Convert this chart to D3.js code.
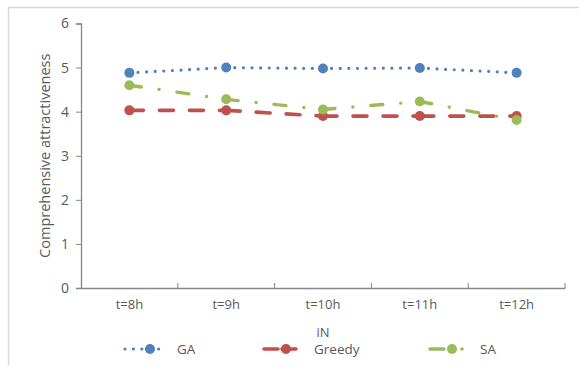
<!DOCTYPE html>
<html>
<head>
<meta charset="utf-8">
<script src="https://cdn.jsdelivr.net/npm/d3@7"></script>
<style>
  html, body { margin: 0; padding: 0; background: #fff; }
  svg { display: block; }
  text { font-family: "Open Sans", "Liberation Sans", sans-serif; fill: #595959; }
</style>
</head>
<body>
<svg id="chart" width="579" height="365"></svg>
<script>
const categories = ["t=8h", "t=9h", "t=10h", "t=11h", "t=12h"];
const gaValues = [4.88, 5.00, 4.98, 4.99, 4.88];
const greedyValues = [4.03, 4.03, 3.90, 3.90, 3.90];
const saValues = [4.60, 4.28, 4.05, 4.23, 3.81];
const yTicks = [0, 1, 2, 3, 4, 5, 6];
const seriesNames = ["GA", "Greedy", "SA"];

const svg = d3.select("#chart");
const W = 579, H = 365;

// chart frame
svg.append("rect").attr("x", 8.5).attr("y", 7.5).attr("width", W + 10).attr("height", H + 10)
  .attr("fill", "none").attr("stroke", "#d9d9d9").attr("stroke-width", 1.5);

const plot = { left: 81, right: 565, top: 23.5, bottom: 288 };

const x = d3.scaleBand().domain(categories).range([plot.left, plot.right]);
const y = d3.scaleLinear().domain([0, 6]).range([plot.bottom, plot.top]);

const fontFamily = "'Open Sans', 'Liberation Sans', sans-serif";

// y axis
const yAxis = svg.append("g").attr("transform", `translate(${plot.left},0)`)
  .call(d3.axisLeft(y).tickValues(yTicks).tickSize(5).tickPadding(7).tickFormat(d3.format("d")));
yAxis.attr("font-size", null).attr("font-family", null);
yAxis.select(".domain").attr("stroke", "#868686").attr("stroke-width", 1.3);
yAxis.selectAll(".tick line").attr("stroke", "#868686");
yAxis.selectAll(".tick text").style("font-size", "14px").style("fill", "#595959")
  .style("font-family", fontFamily);

// x axis
const xAxis = svg.append("g").attr("transform", `translate(0,${plot.bottom})`)
  .call(d3.axisBottom(x).tickSize(0).tickPadding(12));
xAxis.attr("font-size", null).attr("font-family", null);
xAxis.select(".domain").attr("stroke", "#868686").attr("stroke-width", 1.3);
xAxis.selectAll(".tick text").style("font-size", "13px").style("fill", "#595959")
  .style("font-family", fontFamily);
// category boundary ticks
const boundaries = categories.map(c => x(c)).concat([x(categories[categories.length - 1]) + x.bandwidth()]);
svg.append("g").selectAll("line").data(boundaries.slice(1)).join("line")
  .attr("x1", d => d).attr("x2", d => d)
  .attr("y1", plot.bottom).attr("y2", plot.bottom - 5)
  .attr("stroke", "#868686").attr("stroke-width", 1);

// axis titles
svg.append("text")
  .attr("transform", `translate(50,${(plot.top + plot.bottom) / 2}) rotate(-90)`)
  .attr("text-anchor", "middle").style("font-size", "14.5px")
  .text("Comprehensive attractiveness");
svg.append("text").attr("x", (plot.left + plot.right) / 2).attr("y", 337)
  .attr("text-anchor", "middle").style("font-size", "13px").text("iN");

const series = [
  { name: seriesNames[0], values: gaValues, color: "#4F81BD", dash: "0.01 8.6", width: 3.2 },
  { name: seriesNames[1], values: greedyValues, color: "#C0504D", dash: "14 16", width: 3.6 },
  { name: seriesNames[2], values: saValues, color: "#9BBB59", dash: "12 18 0.01 18", width: 3.4 }
];

const cx = c => x(c) + x.bandwidth() / 2;

// each segment restarts its dash pattern at the marker
series.forEach(s => {
  const segs = d3.pairs(s.values.map((v, i) => [cx(categories[i]), y(v)]));
  svg.append("g").selectAll("line").data(segs).join("line")
    .attr("x1", d => d[0][0]).attr("y1", d => d[0][1])
    .attr("x2", d => d[1][0]).attr("y2", d => d[1][1])
    .attr("stroke", s.color).attr("stroke-width", s.width)
    .attr("stroke-dasharray", s.dash).attr("stroke-linecap", "round");
});
series.forEach(s => {
  svg.append("g").selectAll("circle").data(s.values).join("circle")
    .attr("cx", (d, i) => cx(categories[i])).attr("cy", d => y(d)).attr("r", 5)
    .attr("fill", s.color);
});

// legend
const legendItems = [
  { s: series[0], mx: 150, tx: 177 },
  { s: series[1], mx: 286, tx: 314 },
  { s: series[2], mx: 452, tx: 480 }
];
const ly = 349;
legendItems.forEach(({ s, mx, tx }) => {
  if (s.name === "SA") {
    svg.append("line").attr("x1", mx - 22).attr("x2", mx - 8).attr("y1", ly).attr("y2", ly)
      .attr("stroke", s.color).attr("stroke-width", s.width).attr("stroke-linecap", "round");
    svg.append("circle").attr("cx", mx + 10).attr("cy", ly).attr("r", 1.8).attr("fill", s.color);
  } else if (s.name === "GA") {
    svg.append("line").attr("x1", mx - 25).attr("x2", mx + 17).attr("y1", ly).attr("y2", ly)
      .attr("stroke", s.color).attr("stroke-width", s.width)
      .attr("stroke-dasharray", "0.01 8.4").attr("stroke-linecap", "round");
  } else {
    svg.append("line").attr("x1", mx - 22).attr("x2", mx + 22).attr("y1", ly).attr("y2", ly)
      .attr("stroke", s.color).attr("stroke-width", s.width)
      .attr("stroke-dasharray", "14 4 14").attr("stroke-linecap", "round");
  }
  svg.append("circle").attr("cx", mx).attr("cy", ly).attr("r", 5).attr("fill", s.color);
  svg.append("text").attr("x", tx).attr("y", ly + 5).style("font-size", "13.5px").text(s.name);
});
</script>
</body>
</html>
